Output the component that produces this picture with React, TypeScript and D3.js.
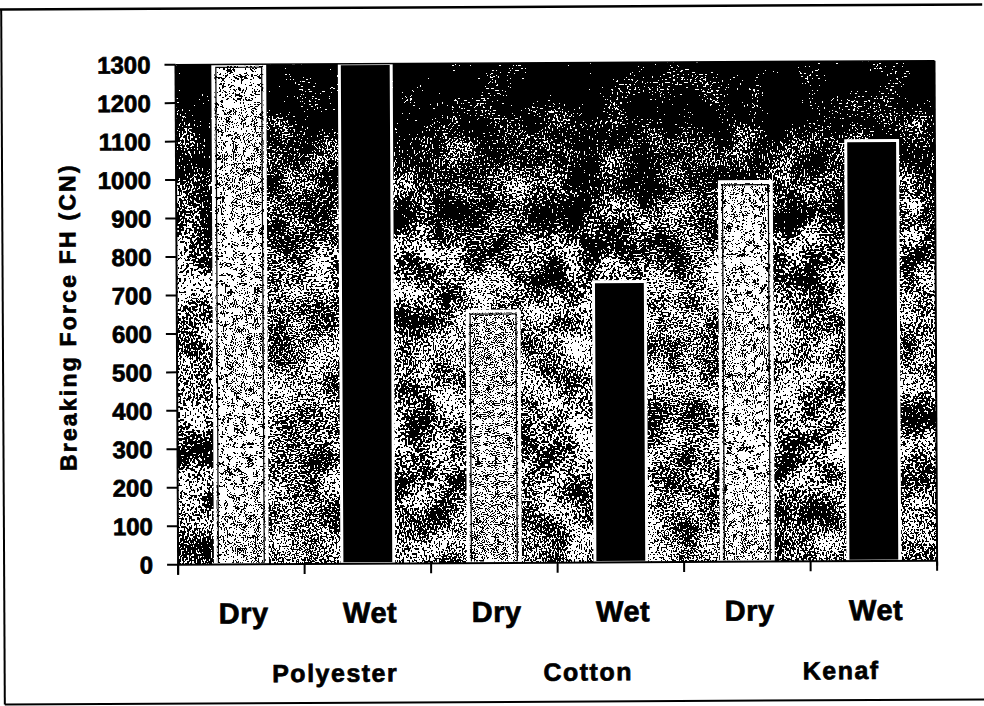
import React from "react";
import * as d3 from "d3";

// ---- data ----
const materials = ["Polyester", "Cotton", "Kenaf"];
const conditions = ["Dry", "Wet"];
const dryForce = [1300, 655, 988];
const wetForce = [1300, 730, 1093];
const yTickValues = [0, 100, 200, 300, 400, 500, 600, 700, 800, 900, 1000, 1100, 1200, 1300];
const yTitle = "Breaking Force FH (CN)";

export default function App() {
  const W = 984;
  const H = 706;
  const plot = { left: 177, right: 936, top: 63, bottom: 563 };

  const bars = materials.flatMap((m, i) => [
    { material: m, condition: conditions[0], value: dryForce[i] },
    { material: m, condition: conditions[1], value: wetForce[i] },
  ]);
  const keys = bars.map((b) => b.material + "|" + b.condition);

  const x = d3.scaleBand<string>().domain(keys).range([plot.left, plot.right]).paddingInner(0).paddingOuter(0);
  const y = d3.scaleLinear().domain([0, 1300]).range([plot.bottom, plot.top]);
  const step = x.step();
  const barW = step * 0.41;
  const boundaries = d3.range(keys.length + 1).map((i) => plot.left + i * step);

  const font = "'Liberation Sans', Arial, Helvetica, sans-serif";
  const thick = { stroke: "#000", strokeWidth: 0.7 };

  const noiseFilter = (id: string, low: number, high: number, seed: number, wLow: number, wHigh: number) => (
    <filter id={id} x="0" y="0" width="1" height="1" colorInterpolationFilters="sRGB">
      <feTurbulence type="fractalNoise" baseFrequency={low} numOctaves={3} seed={seed} result="n1" />
      <feColorMatrix in="n1" type="matrix" values="1 0 0 0 0  1 0 0 0 0  1 0 0 0 0  0 0 0 0 1" result="g1" />
      <feTurbulence type="fractalNoise" baseFrequency={high} numOctaves={1} seed={seed + 5} result="n2" />
      <feColorMatrix in="n2" type="matrix" values="1 0 0 0 0  1 0 0 0 0  1 0 0 0 0  0 0 0 0 1" result="g2" />
      <feComposite
        in="g1"
        in2="g2"
        operator="arithmetic"
        k1="0"
        k2={wLow}
        k3={wHigh}
        k4={0.5 - 0.5 * (wLow + wHigh)}
        result="c"
      />
      <feComposite in="c" in2="SourceGraphic" operator="arithmetic" k1="0" k2="1" k3="0.6" k4="-0.3" result="m" />
      <feComponentTransfer in="m">
        <feFuncR type="discrete" tableValues="0 1" />
        <feFuncG type="discrete" tableValues="0 1" />
        <feFuncB type="discrete" tableValues="0 1" />
        <feFuncA type="discrete" tableValues="1 1" />
      </feComponentTransfer>
    </filter>
  );

  return (
    <svg
      width={W}
      height={H}
      viewBox={`0 0 ${W} ${H}`}
      style={{ position: "absolute", left: 0, top: 0, background: "#fff" }}
    >
      <defs>
        <linearGradient id="bgGrad" x1="0" y1="0" x2="0" y2="1">
          <stop offset="0" stopColor="#101010" />
          <stop offset="0.22" stopColor="#4a4a4a" />
          <stop offset="0.45" stopColor="#7e7e7e" />
          <stop offset="1" stopColor="#7a7a7a" />
        </linearGradient>
        {noiseFilter("bgNoise", 0.03, 0.6, 7, 0.55, 1.6)}
        {noiseFilter("dryNoise", 0.15, 0.9, 13, 0.4, 1.4)}
      </defs>

      <g transform={`rotate(-0.3 ${W / 2} ${H / 2})`}>
        {/* outer frame */}
        <line x1={0} y1={7} x2={W} y2={7} stroke="#000" strokeWidth={2.5} />
        <line x1={3} y1={7} x2={3} y2={702} stroke="#000" strokeWidth={2} />
        <line x1={3} y1={702} x2={W} y2={702} stroke="#000" strokeWidth={2} />

        {/* plot background texture */}
        <rect
          x={plot.left}
          y={plot.top}
          width={plot.right - plot.left}
          height={plot.bottom - plot.top}
          fill="url(#bgGrad)"
          filter="url(#bgNoise)"
        />

        {/* bars */}
        {bars.map((b, i) => {
          const cx = (x(keys[i]) as number) + step / 2;
          const top = y(b.value);
          const h = plot.bottom - top;
          const isDry = b.condition === "Dry";
          return (
            <g key={keys[i]}>
              {isDry ? (
                <rect
                  x={cx - barW / 2}
                  y={top}
                  width={barW}
                  height={h}
                  fill="#989898"
                  filter="url(#dryNoise)"
                />
              ) : (
                <rect x={cx - barW / 2} y={top} width={barW} height={h} fill="#000" />
              )}
              {isDry && (
                <rect
                  x={cx - barW / 2 + 3}
                  y={top + 3}
                  width={barW - 6}
                  height={h - 3}
                  fill="none"
                  stroke="#000"
                  strokeWidth={1.2}
                />
              )}
              <rect
                x={cx - barW / 2}
                y={top}
                width={barW}
                height={h}
                fill="none"
                stroke="#fff"
                strokeWidth={3}
              />
            </g>
          );
        })}

        {/* plot border */}
        <line x1={plot.left} y1={plot.top} x2={plot.right} y2={plot.top} stroke="#000" strokeWidth={1.5} />
        <line x1={plot.right} y1={plot.top} x2={plot.right} y2={plot.bottom + 5} stroke="#000" strokeWidth={2} />

        {/* y axis */}
        <line x1={plot.left} y1={plot.top} x2={plot.left} y2={plot.bottom + 10} stroke="#000" strokeWidth={2} />
        {yTickValues.map((v) => (
          <g key={v}>
            <line x1={plot.left - 11} y1={y(v)} x2={plot.left} y2={y(v)} stroke="#000" strokeWidth={2} />
            <text
              x={plot.left - 25}
              y={y(v)}
              dy="0.36em"
              textAnchor="end"
              fontFamily={font}
              fontWeight="bold"
              fontSize={24}
              fill="#000"
              {...thick}
            >
              {v}
            </text>
          </g>
        ))}

        {/* x axis */}
        <line x1={plot.left} y1={plot.bottom} x2={plot.right} y2={plot.bottom} stroke="#000" strokeWidth={2} />
        {boundaries.map((bx, i) => (
          <line key={i} x1={bx} y1={plot.bottom} x2={bx} y2={plot.bottom + 10} stroke="#000" strokeWidth={2} />
        ))}

        {/* condition labels */}
        {bars.map((b, i) => (
          <text
            key={"c" + keys[i]}
            x={(x(keys[i]) as number) + step / 2 + 2}
            y={622}
            textAnchor="middle"
            fontFamily={font}
            fontWeight="bold"
            fontSize={29}
            letterSpacing={0.5}
            fill="#000"
            {...thick}
          >
            {b.condition}
          </text>
        ))}

        {/* material labels */}
        {materials.map((m) => {
          const gx = (x(m + "|" + conditions[1]) as number) + 30;
          return (
            <text
              key={m}
              x={gx}
              y={681}
              textAnchor="middle"
              fontFamily={font}
              fontWeight="bold"
              fontSize={25}
              letterSpacing={1.5}
              fill="#000"
              {...thick}
            >
              {m}
            </text>
          );
        })}

        {/* y title */}
        <text
          transform={`translate(68, ${(plot.top + plot.bottom) / 2 + 2}) rotate(-90)`}
          textAnchor="middle"
          dominantBaseline="central"
          fontFamily={font}
          fontWeight="bold"
          fontSize={23}
          letterSpacing={2.2}
          fill="#000"
          {...thick}
        >
          {yTitle}
        </text>
      </g>
    </svg>
  );
}
